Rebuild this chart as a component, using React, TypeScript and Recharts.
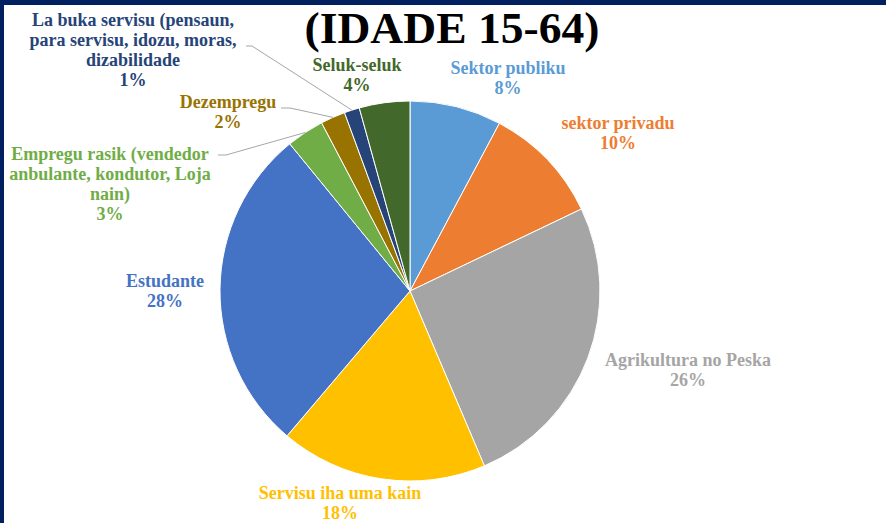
import { PieChart, Pie, Cell } from "recharts";

const categories = [
  "Sektor publiku",
  "sektor privadu",
  "Agrikultura no Peska",
  "Servisu iha uma kain",
  "Estudante",
  "Empregu rasik (vendedor\nanbulante, kondutor, Loja\nnain)",
  "Dezempregu",
  "La buka servisu (pensaun,\npara servisu, idozu, moras,\ndizabilidade",
  "Seluk-seluk",
];
const values = [7.8, 10.1, 25.7, 17.6, 27.9, 3.2, 2.1, 1.3, 4.3];
const colors = [
  "#5B9BD5",
  "#ED7D31",
  "#A5A5A5",
  "#FFC000",
  "#4472C4",
  "#70AD47",
  "#997300",
  "#264478",
  "#43682B",
];
const title = "(IDADE 15-64)";

const data = categories.map((name, i) => ({ name, value: values[i] }));

// where each label sits (centre of first line) and where its leader line starts
const labelLayout: { x: number; y: number; line?: [number, number, number] }[] = [
  { x: 508, y: 68 },
  { x: 618, y: 123 },
  { x: 688, y: 360 },
  { x: 340, y: 493 },
  { x: 165, y: 281 },
  { x: 110, y: 154, line: [218, 155, 226] },
  { x: 228, y: 102, line: [281, 108, 290] },
  { x: 133, y: 20, line: [246, 46, 252] },
  { x: 357, y: 65 },
];

const RADIAN = Math.PI / 180;
const font = "'Liberation Serif', serif";

const renderLabel = (props: any) => {
  const { cx, cy, midAngle, outerRadius, index, percent } = props;
  const pos = labelLayout[index];
  const lines = categories[index].split("\n");
  lines.push(`${Math.round(percent * 100)}%`);
  const ex = cx + outerRadius * Math.cos(-midAngle * RADIAN);
  const ey = cy + outerRadius * Math.sin(-midAngle * RADIAN);
  return (
    <g key={`lbl-${index}`}>
      {pos.line && (
        <polyline
          points={`${pos.line[0]},${pos.line[1]} ${pos.line[2]},${pos.line[1]} ${ex},${ey}`}
          fill="none"
          stroke="#A6A6A6"
          strokeWidth={1}
        />
      )}
      <text
        x={pos.x}
        y={pos.y}
        textAnchor="middle"
        dominantBaseline="central"
        fill={colors[index]}
        fontFamily={font}
        fontWeight="bold"
        fontSize={18}
      >
        {lines.map((l, i) => (
          <tspan key={i} x={pos.x} dy={i === 0 ? 0 : 20}>
            {l}
          </tspan>
        ))}
      </text>
    </g>
  );
};

export default function App() {
  return (
    <div
      style={{
        position: "absolute",
        left: 0,
        top: 0,
        width: 886,
        height: 523,
        background: "#002060",
      }}
    >
      <div
        style={{
          position: "absolute",
          left: 4,
          top: 5,
          right: 0,
          bottom: 0,
          background: "#ffffff",
        }}
      />
      <svg
        width={886}
        height={523}
        style={{ position: "absolute", left: 0, top: 0 }}
      >
        <text
          x={452}
          y={28}
          textAnchor="middle"
          dominantBaseline="central"
          fontFamily={font}
          fontWeight="bold"
          fontSize={45}
          textLength={295}
          lengthAdjust="spacingAndGlyphs"
          fill="#000000"
        >
          {title}
        </text>
      </svg>
      <div style={{ position: "absolute", left: 0, top: 0 }}>
        <PieChart width={886} height={523}>
          <Pie
            data={data}
            dataKey="value"
            nameKey="name"
            cx={405}
            cy={286}
            outerRadius={190}
            startAngle={90}
            endAngle={-270}
            stroke="#ffffff"
            strokeWidth={1}
            label={renderLabel}
            labelLine={false}
            isAnimationActive={false}
          >
            {data.map((d, i) => (
              <Cell key={d.name} fill={colors[i]} />
            ))}
          </Pie>
        </PieChart>
      </div>
    </div>
  );
}
